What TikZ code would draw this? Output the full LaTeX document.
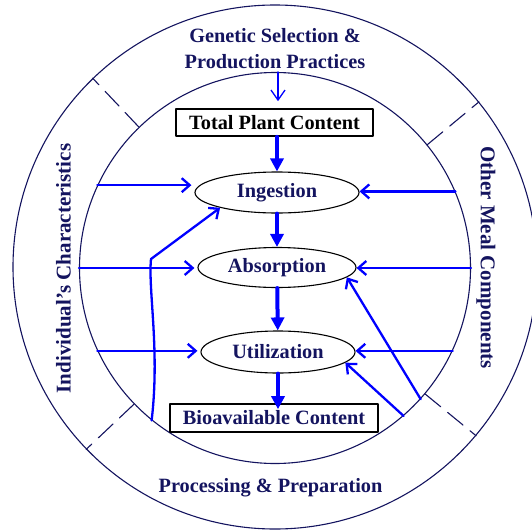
\documentclass[tikz,border=0pt]{standalone}
\usepackage{fontspec}
\setmainfont{Liberation Serif}
\usetikzlibrary{arrows.meta,shapes.geometric}
\definecolor{navyink}{RGB}{20,20,95}
\definecolor{flowblue}{RGB}{0,0,255}

\begin{document}
\begin{tikzpicture}[line cap=round,line join=round,x=1pt,y=-1pt,
  ring/.style={circle,draw=navyink,line width=1.1pt,inner sep=0pt},
  divider/.style={draw=navyink,line width=1.1pt,dash pattern=on 20pt off 9pt},
  ringtext/.style={text=navyink,align=center,font=\fontsize{20.3}{25.5}\selectfont\bfseries},
  side/.style={text=navyink,font=\fontsize{21}{25}\selectfont\bfseries},
  stagenode/.style={ellipse,draw=black,line width=1.1pt,inner sep=0pt,text=navyink,font=\fontsize{20.3}{25}\selectfont\bfseries},
  contentbox/.style={draw=black,line width=1.6pt,inner sep=0pt,font=\fontsize{20.3}{25}\selectfont\bfseries},
  flow/.style={draw=flowblue,line width=4pt,-{Triangle[length=13pt,width=13pt]}},
  feed/.style={draw=flowblue,line width=2.3pt,-{Straight Barb[length=8pt,width=14pt]}}]
\useasboundingbox (0,0) rectangle (532,530);
\clip (0,0) rectangle (532,530);

% rings and the dashed splits between them
\node[ring,minimum size=524pt] (outer) at (275,267) {};
\node[ring,minimum size=391pt] (inner) at (275,268) {};
\draw[divider] (inner.134.5) -- (outer.134.5);
\draw[divider] (inner.39) -- (outer.39);
\draw[divider] (inner.224) -- (outer.224);
\draw[divider] (inner.-40) -- (outer.-40);

% factors around the ring
\node[ringtext] (gen) at (275,48.5) {Genetic Selection \&\\Production Practices};
\node[ringtext,anchor=base] (proc) at (270.5,492) {Processing \& Preparation};
\node[side,rotate=90] (indiv) at (63.5,268.5) {Individual's Characteristics};
\node[side,rotate=-90] (meal) at (486,257.5) {Other Meal Components};

% main chain
\node[contentbox,minimum width=197pt,minimum height=27pt] (tpc) at (274.5,122.5) {Total Plant Content};
\node[stagenode,minimum width=164pt,minimum height=41pt] (ing) at (277,192.5) {Ingestion};
\node[stagenode,minimum width=158pt,minimum height=40pt] (abs) at (277,267.5) {Absorption};
\node[stagenode,minimum width=154pt,minimum height=42pt] (util) at (278,352) {Utilization};
\node[contentbox,text=navyink,minimum width=208pt,minimum height=28pt] (bio) at (274,418) {Bioavailable Content};

\coordinate (genfoot) at (278,72);
\draw[draw=flowblue,line width=1.3pt,-{Straight Barb[length=10pt,width=14pt]},shorten >=7pt] (genfoot) -- (tpc.north -| genfoot);
\draw[flow] (tpc.south -| ing) -- (ing.north);
\draw[flow] (ing) -- (abs);
\draw[flow] (abs) -- (util);
\draw[flow,shorten >=-6pt] (util.south) -- (util.south |- bio.north);

% left side
\draw[feed,shorten >=3pt] (inner.155.4) -- (inner.155.4 -| ing.west);
\draw[feed,shorten >=3pt] (inner.180) -- (inner.180 -| abs.west);
\draw[feed,shorten >=3pt] (inner.205.4) -- (inner.205.4 -| util.west);
\coordinate (bend) at (151,259);
\draw[feed] (inner.231) .. controls (160,350) and (148,290) .. (bend) -- (ing.195);

% right side
\draw[feed] (inner.23.3) -- (inner.23.3 -| ing.east);
\draw[feed] (inner.0.9) -- (inner.0.9 -| abs.east);
\draw[feed] (inner.-25) -- (inner.-25 -| util.east);
\draw[feed] (inner.-42.1) -- (abs.-8);
\draw[feed] (inner.-49.8) -- (util.-9.5);
\end{tikzpicture}
\end{document}
